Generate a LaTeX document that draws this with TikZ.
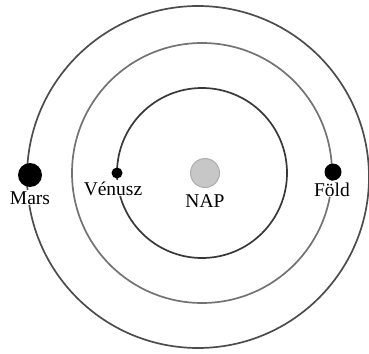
\documentclass[tikz,border=0pt]{standalone}
\usepackage{fontspec}
\setmainfont{Liberation Serif}
\usetikzlibrary{positioning}

\begin{document}
\begin{tikzpicture}[
  x=1pt, y=-1pt,
  font=\fontsize{19.5}{21}\selectfont,
  orbit/.style={line width=1.7pt},
  planet/.style={
    circle,
    fill=black,
    inner sep=0pt
  },
  label/.style={
    fill=white,
    inner sep=1pt,
    text=black
  }
]

\useasboundingbox (0,0) rectangle (369,353);

% --- Orbits ---
\coordinate (centre) at (202,173);
\coordinate (outercentre) at (198,177);

\draw[orbit, draw=black!70] (outercentre) circle (171);
\draw[orbit, draw=black!55] (centre) circle (130);
\draw[orbit, draw=black!78] (centre) circle (85);

% --- Sun ---
\node[circle, fill=black!22, draw=black!32, line width=1pt,
  minimum size=29pt, inner sep=0pt] (sun) at (205,173) {};
\node[label, anchor=base] (sunlabel) at (205,207) {NAP};

% --- Planets ---
\node[planet, minimum size=24pt] (mars) at (30,175) {};
\node[planet, minimum size=11pt] (venus) at (117,173) {};
\node[planet, minimum size=17pt] (earth) at (333,172) {};

% Planet labels
\node[label, anchor=base] (marslabel) at (30,204) {Mars};
\node[label, anchor=base] (venuslabel) at (113,195) {Vénusz};
\node[label, anchor=base] (earthlabel) at (332,196) {Föld};

\end{tikzpicture}
\end{document}
